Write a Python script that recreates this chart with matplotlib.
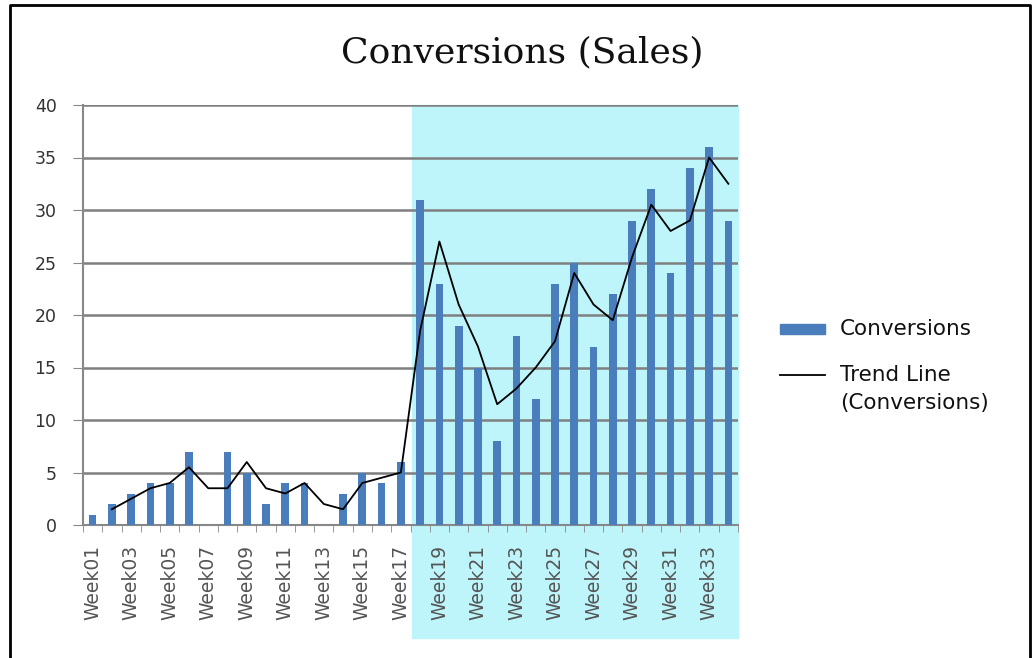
import numpy as np
import matplotlib
matplotlib.use("Agg")
import matplotlib.pyplot as plt
from matplotlib.lines import Line2D
from matplotlib.patches import Rectangle
import matplotlib.transforms as mtransforms

# weekly data
weeks = ["Week%02d" % i for i in range(1, 35)]
conversions = [1, 2, 3, 4, 4, 7, 0, 7, 5, 2, 4, 4, 0, 3, 5, 4, 6,
               31, 23, 19, 15, 8, 18, 12, 23, 25, 17, 22, 29, 32, 24, 34, 36, 29]
# trend line (2 period moving average), starts at Week02
trend = [1.5, 2.5, 3.5, 4, 5.5, 3.5, 3.5, 6, 3.5, 3, 4, 2, 1.5, 4, 4.5, 5,
         18.5, 27, 21, 17, 11.5, 13, 15, 17.5, 24, 21, 19.5, 25.5, 30.5, 28, 29, 35, 32.5]
highlight_start = 16.6

W, H = 1035, 658
fig = plt.figure(figsize=(W/100, H/100), dpi=100)
ax = fig.add_axes([83/W, 1-525/H, (738-83)/W, 420/H])

x = np.arange(len(weeks))
bar_color = '#4a7dbb'

# cyan highlight region, reaching down into the tick labels
trans = mtransforms.blended_transform_factory(ax.transData, ax.transAxes)
ax.add_patch(Rectangle((highlight_start, -0.27), 33.5 - highlight_start, 1.27,
                       transform=trans, color='#bdf5fa', clip_on=False, zorder=0))

ax.bar(x, conversions, width=0.4, color=bar_color, zorder=3)
ax.plot(x[1:], trend, color='black', lw=1.3, zorder=4)

ax.set_xlim(-0.5, 33.5)
ax.set_ylim(0, 40)
ax.set_yticks(range(0, 41, 5))
ax.yaxis.grid(True, color='#7f7f7f', lw=1.8, zorder=1)
ax.set_axisbelow(True)
ax.set_facecolor('none')

ax.set_xticks(x[::2])
ax.set_xticklabels(weeks[::2], rotation=90, color='#555555', fontsize=13.5,
                   family='DejaVu Sans')
ax.set_xticks(np.arange(-0.5, 34, 1), minor=True)
ax.tick_params(axis='x', which='major', length=0, pad=14)
ax.tick_params(axis='x', which='minor', length=5, color='#888888')
ax.tick_params(axis='y', length=7, color='#888888', labelsize=12.5, labelcolor='#333333',
               pad=12)
for lbl in ax.get_yticklabels():
    lbl.set_family('DejaVu Sans')

for s in ['top', 'right']:
    ax.spines[s].set_visible(False)
for s in ['left', 'bottom']:
    ax.spines[s].set_color('#888888')
    ax.spines[s].set_linewidth(1.5)

fig.text(522/W, 1-52/H, 'Conversions (Sales)', ha='center', va='center',
         fontsize=26, family='DejaVu Serif', color='#111111')

# legend drawn on the right
leg_font = dict(family='DejaVu Sans', size=15.5, color='#111111')
fig.add_artist(Rectangle((780/W, 1-334/H), 45/W, 10/H, transform=fig.transFigure,
                         color=bar_color))
fig.text(840/W, 1-329/H, 'Conversions', va='center', **leg_font)
fig.add_artist(Line2D([780/W, 825/W], [1-375/H, 1-375/H], transform=fig.transFigure,
                      color='black', lw=1.3))
fig.text(840/W, 1-375/H, 'Trend Line', va='center', **leg_font)
fig.text(840/W, 1-403/H, '(Conversions)', va='center', **leg_font)

# outer frame (left, top, right)
fig.add_artist(Line2D([10/W, 10/W, 1030/W, 1030/W],
                      [0, 1-5/H, 1-5/H, 0], transform=fig.transFigure,
                      color='black', lw=2))

fig.savefig('out.png', dpi=100)
